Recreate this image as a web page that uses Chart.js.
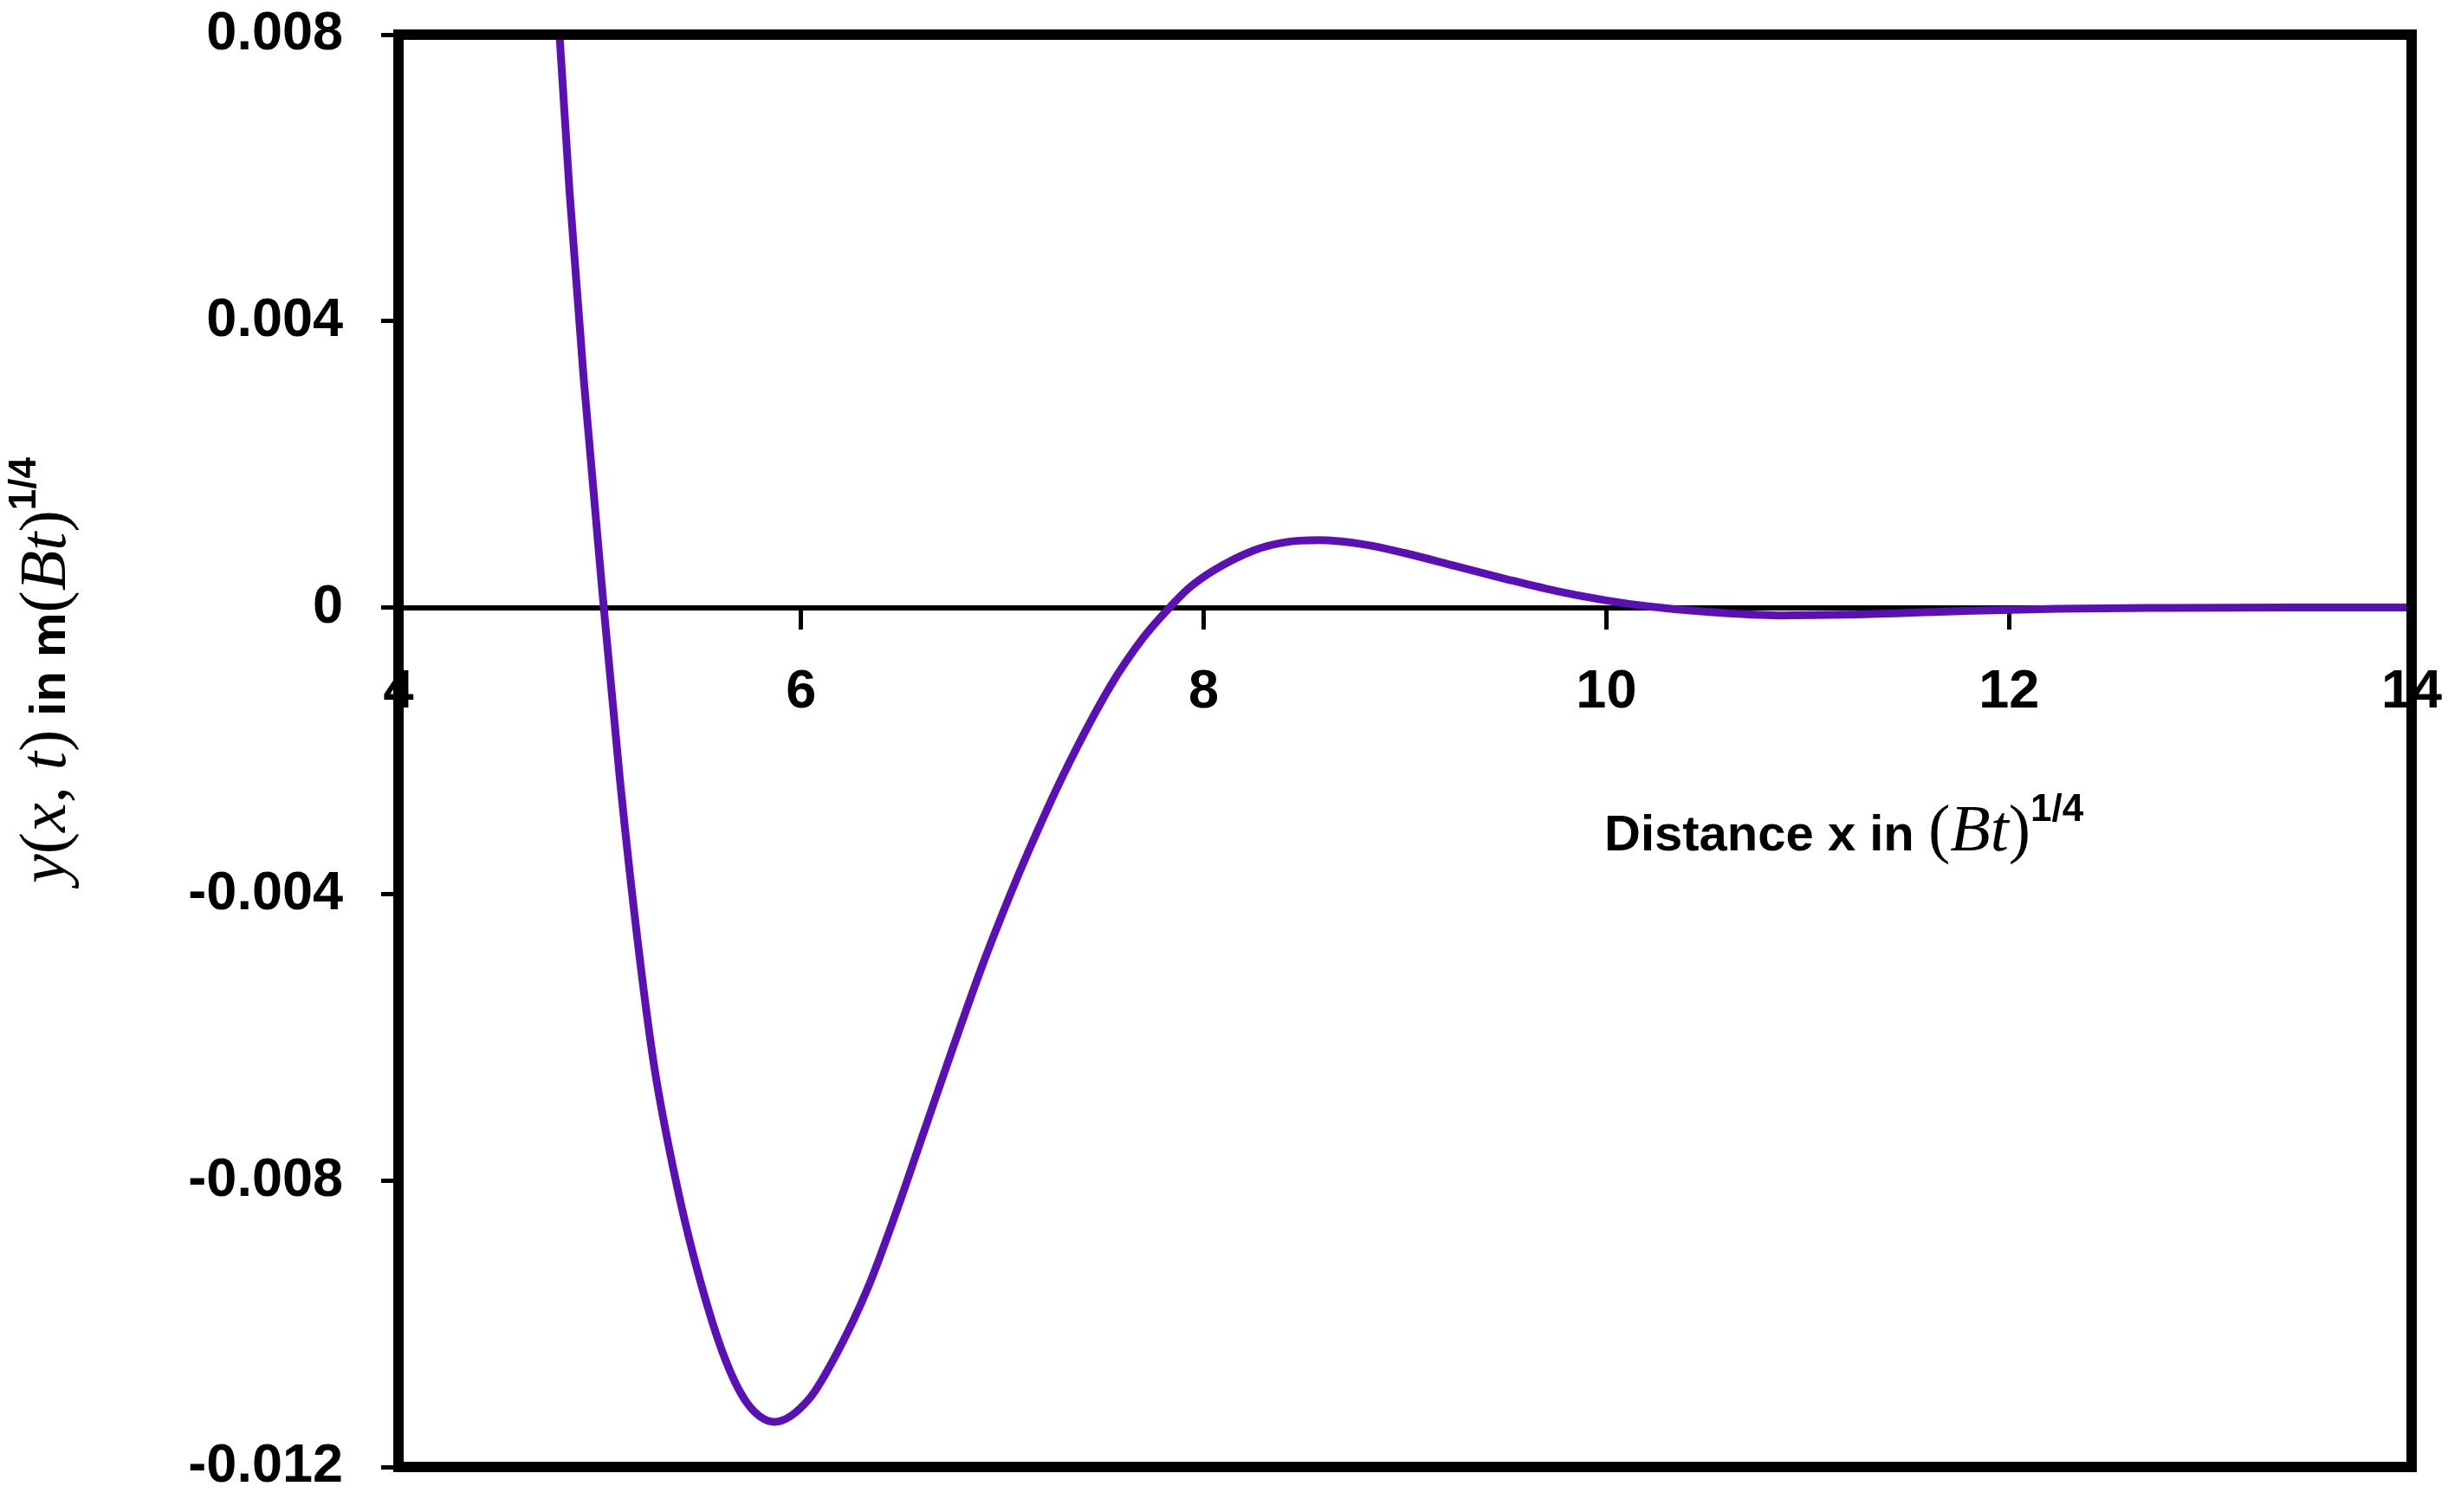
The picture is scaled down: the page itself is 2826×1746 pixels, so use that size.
<!DOCTYPE html>
<html>
<head>
<meta charset="utf-8">
<script src="https://cdn.jsdelivr.net/npm/chart.js@4.4.1/dist/chart.umd.min.js"></script>
<style>
  html, body { margin: 0; padding: 0; background: #fff; }
</style>
</head>
<body>
<canvas id="graficoY" width="2826" height="1746"></canvas>
<script>
// valores
const xValores = [4.75, 4.80, 4.85, 4.92, 5.02, 5.10, 5.19, 5.27, 5.37, 5.47, 5.61, 5.73, 5.87,
  6.04, 6.18, 6.33, 6.47, 6.61, 6.76, 6.90, 7.04, 7.13, 7.30, 7.54, 7.70, 7.83, 7.93,
  8.05, 8.25, 8.40, 8.57, 8.80, 9.00, 9.25, 9.50, 9.77, 10.0, 10.2, 10.5, 10.86, 11.2, 11.69, 12.24, 12.8, 13.4, 14.0];
const yValores = [0.0104, 0.0080, 0.0058, 0.0032, 0, -0.0024, -0.0047, -0.0064, -0.0079, -0.0091, -0.0104, -0.0111, -0.01137,
  -0.01105, -0.0104, -0.00951, -0.00846, -0.00732, -0.0061, -0.0050, -0.0040, -0.0034, -0.00235, -0.00108, -0.00042, 0, 0.00028,
  0.00052, 0.0008, 0.00091, 0.00094, 0.00088, 0.00076, 0.00058, 0.0004, 0.00022, 0.0001, 0.00002, -0.00006, -0.00011, -0.0001, -0.000056, -0.000016, -0.000004, 0, 0];
const xTicks = [4, 6, 8, 10, 12, 14];
const yTicks = [0.008, 0.004, 0, -0.004, -0.008, -0.012];

const FUENTE = '"Liberation Sans", Arial, sans-serif';
const SERIF = '"Liberation Serif", "DejaVu Serif", serif';

const tituloX = [
  { text: 'Distance x in ', font: 'bold 58px ' + FUENTE },
  { text: '(', font: '76px ' + SERIF },
  { text: 'Bt', font: 'italic 76px ' + SERIF },
  { text: ')', font: '76px ' + SERIF },
  { text: '1/4', font: 'bold 44px ' + FUENTE, dy: -34 }
];
const tituloY = [
  { text: 'y', font: 'italic 76px ' + SERIF },
  { text: '(', font: '76px ' + SERIF },
  { text: 'x', font: 'italic 76px ' + SERIF },
  { text: ', ', font: '76px ' + SERIF },
  { text: 't', font: 'italic 76px ' + SERIF },
  { text: ')', font: '76px ' + SERIF },
  { text: ' in m', font: 'bold 58px ' + FUENTE },
  { text: '(', font: '76px ' + SERIF },
  { text: 'Bt', font: 'italic 76px ' + SERIF },
  { text: ')', font: '76px ' + SERIF },
  { text: '1/4', font: 'bold 44px ' + FUENTE, dy: -34 }
];

function textoRico(ctx, partes, x, y) {
  let cx = x;
  partes.forEach(p => {
    ctx.font = p.font;
    ctx.fillText(p.text, cx, y + (p.dy || 0));
    cx += ctx.measureText(p.text).width;
  });
}

function sinRelleno(s) {
  s.paddingLeft = 0;
  s.paddingRight = 0;
  s.paddingTop = 0;
  s.paddingBottom = 0;
}

const marcoYTitulos = {
  id: 'marcoYTitulos',
  afterDatasetsDraw(chart) {
    const { ctx, chartArea: a } = chart;
    ctx.save();
    ctx.strokeStyle = '#000';
    ctx.lineWidth = 12;
    ctx.strokeRect(a.left, a.top, a.right - a.left, a.bottom - a.top);
    ctx.restore();
  },
  afterDraw(chart) {
    const ctx = chart.ctx;
    ctx.save();
    ctx.fillStyle = '#000';
    ctx.textBaseline = 'alphabetic';
    ctx.textAlign = 'left';
    textoRico(ctx, tituloX, 1852, 982);
    ctx.translate(75, 1020);
    ctx.rotate(-Math.PI / 2);
    textoRico(ctx, tituloY, 0, 0);
    ctx.restore();
  }
};

const ctx = document.getElementById('graficoY').getContext('2d');
new Chart(ctx, {
  type: 'line',
  data: {
    datasets: [{
      data: xValores.map((x, i) => ({ x: x, y: yValores[i] })),
      borderColor: '#5a10b4',
      borderWidth: 9,
      pointRadius: 0,
      cubicInterpolationMode: 'monotone',
      fill: false
    }]
  },
  options: {
    responsive: false,
    devicePixelRatio: 1,
    animation: false,
    layout: { padding: { top: 40, right: 42, bottom: 52, left: 0 } },
    plugins: { legend: { display: false }, tooltip: { enabled: false } },
    scales: {
      x: {
        type: 'linear',
        position: { y: 0 },
        min: 4,
        max: 14,
        afterBuildTicks: s => { s.ticks = xTicks.map(v => ({ value: v })); },
        afterFit: sinRelleno,
        ticks: {
          color: '#000',
          font: { family: FUENTE, size: 63, weight: 'bold' },
          padding: 38,
          maxRotation: 0,
          autoSkip: false,
          callback: v => String(v)
        },
        grid: { drawOnChartArea: false, drawTicks: true, tickLength: 22, tickWidth: 5, tickColor: '#000' },
        border: { display: true, color: '#000', width: 6 }
      },
      y: {
        type: 'linear',
        position: 'left',
        min: -0.012,
        max: 0.008,
        afterBuildTicks: s => { s.ticks = yTicks.map(v => ({ value: v })); },
        afterFit: s => { s.width = 460; sinRelleno(s); },
        ticks: {
          color: '#000',
          font: { family: FUENTE, size: 63, weight: 'bold' },
          padding: 44,
          autoSkip: false,
          callback: v => (v === 0 ? '0' : v.toFixed(3))
        },
        grid: { drawOnChartArea: false, drawTicks: true, tickLength: 20, tickWidth: 5, tickColor: '#000' },
        border: { display: false }
      }
    }
  },
  plugins: [marcoYTitulos]
});
</script>
</body>
</html>
